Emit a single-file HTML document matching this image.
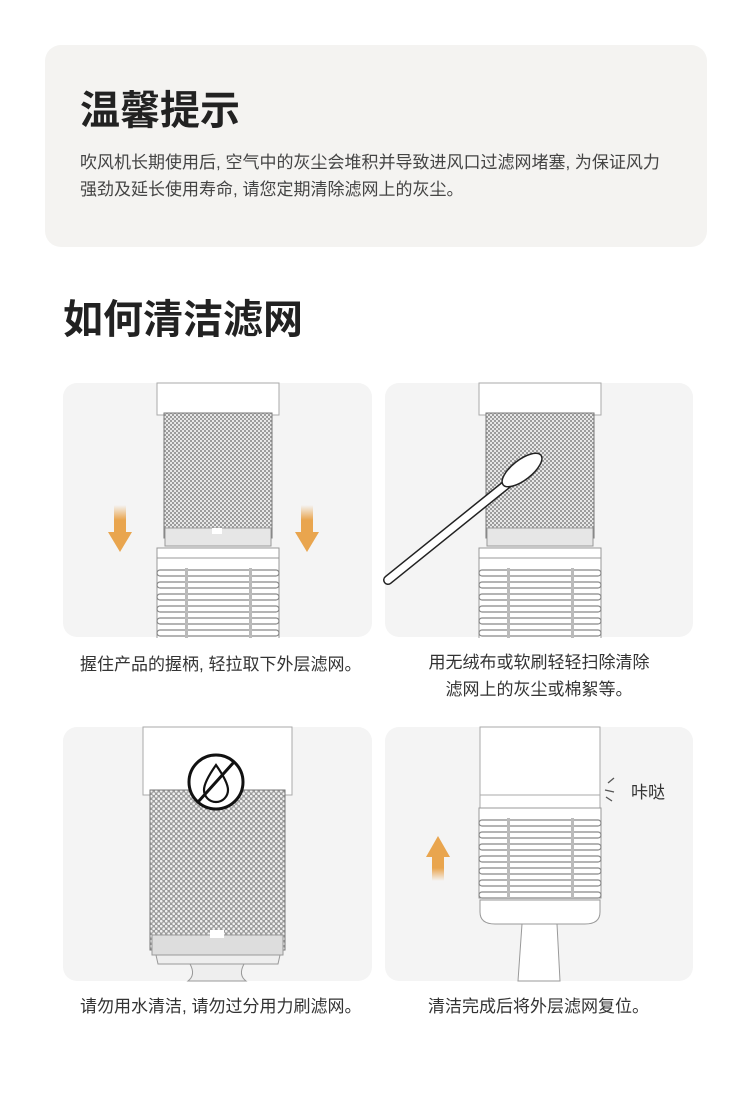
<!DOCTYPE html>
<html><head><meta charset="utf-8"><style>
html,body{margin:0;padding:0;background:#fff;}
svg text{font-family:"Liberation Sans","Noto Sans CJK SC",sans-serif;}
</style></head><body>
<svg width="750" height="1093" viewBox="0 0 750 1093" xmlns="http://www.w3.org/2000/svg">
<defs>
<pattern id="mesh" width="4" height="4" patternUnits="userSpaceOnUse">
<rect width="4" height="4" fill="#9a9a9a"/>
<circle cx="1" cy="1" r="1.1" fill="#eeeeee"/>
<circle cx="3" cy="3" r="1.1" fill="#eeeeee"/>
</pattern>
<pattern id="mesh2" width="5" height="5" patternUnits="userSpaceOnUse">
<rect width="5" height="5" fill="#9a9a9a"/>
<circle cx="1.2" cy="1.2" r="1.3" fill="#f0f0f0"/>
<circle cx="3.7" cy="3.7" r="1.3" fill="#f0f0f0"/>
</pattern>
<linearGradient id="ad" x1="0" y1="0" x2="0" y2="1"><stop offset="0" stop-color="#e9a54e" stop-opacity="0"/><stop offset="0.5" stop-color="#e9a54e"/></linearGradient>
<linearGradient id="au" x1="0" y1="1" x2="0" y2="0"><stop offset="0" stop-color="#e9a54e" stop-opacity="0"/><stop offset="0.5" stop-color="#e9a54e"/></linearGradient>
<g id="grille">
<rect x="0" y="0" width="122" height="90" fill="#fff" stroke="#999" stroke-width="1"/>
<g stroke="#888" fill="#fff" stroke-width="1.2">
<rect x="0" y="12" width="122" height="6" rx="3"/><rect x="0" y="24" width="122" height="6" rx="3"/>
<rect x="0" y="36" width="122" height="6" rx="3"/><rect x="0" y="48" width="122" height="6" rx="3"/>
<rect x="0" y="60" width="122" height="6" rx="3"/><rect x="0" y="72" width="122" height="6" rx="3"/>
<rect x="0" y="84" width="122" height="6" rx="3"/>
</g>
<g fill="#bbb"><rect x="28" y="10" width="3" height="80"/><rect x="92" y="10" width="3" height="80"/></g>
</g>
</defs>
<rect x="45" y="45" width="662" height="202" rx="16" fill="#f4f3f1"/>
<text x="80" y="124" font-size="40" font-weight="bold" fill="#222">温馨提示</text>
<text x="80" y="168" font-size="17" fill="#444">吹风机长期使用后, 空气中的灰尘会堆积并导致进风口过滤网堵塞, 为保证风力</text>
<text x="80" y="195" font-size="17" fill="#444">强劲及延长使用寿命, 请您定期清除滤网上的灰尘。</text>
<text x="63" y="333" font-size="40" font-weight="bold" fill="#222">如何清洁滤网</text>

<rect x="63" y="383" width="309" height="254" rx="14" fill="#f4f4f4"/>
<rect x="385" y="383" width="308" height="254" rx="14" fill="#f4f4f4"/>
<rect x="63" y="727" width="309" height="254" rx="14" fill="#f4f4f4"/>
<rect x="385" y="727" width="308" height="254" rx="14" fill="#f4f4f4"/>

<!-- panel 1 -->
<rect x="157" y="383" width="122" height="32" fill="#fff" stroke="#aaa"/>
<rect x="164" y="413" width="108" height="125" fill="url(#mesh)" stroke="#777"/>
<rect x="165" y="528" width="106" height="18" fill="#e6e6e6" stroke="#999"/>
<rect x="212" y="528" width="10" height="6" fill="#fff"/>
<rect x="157" y="548" width="122" height="14" fill="#fff" stroke="#999"/>
<use href="#grille" x="157" y="558"/>
<rect x="60" y="638" width="320" height="12" fill="#fff"/>
<rect x="114" y="505" width="12" height="30" fill="url(#ad)"/><polygon points="108,532 132,532 120,552" fill="#e9a54e"/>
<rect x="301" y="505" width="12" height="30" fill="url(#ad)"/><polygon points="295,532 319,532 307,552" fill="#e9a54e"/>

<!-- panel 2 -->
<rect x="479" y="383" width="122" height="32" fill="#fff" stroke="#aaa"/>
<rect x="486" y="413" width="108" height="125" fill="url(#mesh)" stroke="#777"/>
<rect x="487" y="528" width="106" height="18" fill="#e6e6e6" stroke="#999"/>
<rect x="479" y="548" width="122" height="14" fill="#fff" stroke="#999"/>
<use href="#grille" x="479" y="558"/>
<rect x="380" y="638" width="320" height="12" fill="#fff"/>
<line x1="388" y1="580" x2="522" y2="472" stroke="#222" stroke-width="10" stroke-linecap="round"/>
<line x1="388" y1="580" x2="522" y2="472" stroke="#fff" stroke-width="7" stroke-linecap="round"/>
<ellipse cx="522" cy="470" rx="24" ry="10" transform="rotate(-38 522 470)" fill="#fff" stroke="#222" stroke-width="1.5"/>

<text x="80" y="670" font-size="17" fill="#333">握住产品的握柄, 轻拉取下外层滤网。</text>
<text x="539" y="668" font-size="17" fill="#333" text-anchor="middle">用无绒布或软刷轻轻扫除清除</text>
<text x="539" y="695" font-size="17" fill="#333" text-anchor="middle">滤网上的灰尘或棉絮等。</text>

<!-- panel 3 -->
<rect x="143" y="727" width="149" height="68" fill="#fff" stroke="#aaa"/>
<rect x="150" y="790" width="135" height="160" fill="url(#mesh2)" stroke="#777"/>
<rect x="152" y="935" width="131" height="20" fill="#ddd" stroke="#999"/>
<rect x="210" y="930" width="14" height="8" fill="#fff"/>
<path d="M156 955 L280 955 L278 964 L158 964 Z" fill="#eee" stroke="#999"/>
<path d="M190 964 Q196 975 188 981 L246 981 Q238 975 244 964 Z" fill="#eee" stroke="#999"/>
<circle cx="216" cy="782" r="27" fill="#fff" stroke="#111" stroke-width="3"/>
<path d="M216 765 Q204 782 204 790 A12 12 0 0 0 228 790 Q228 782 216 765 Z" fill="none" stroke="#111" stroke-width="2.2"/>
<line x1="198" y1="802" x2="234" y2="762" stroke="#111" stroke-width="3"/>

<!-- panel 4 -->
<rect x="480" y="727" width="120" height="68" fill="#fff" stroke="#aaa"/>
<rect x="480" y="795" width="120" height="14" fill="#fff" stroke="#aaa"/>
<use href="#grille" x="479" y="808"/>
<path d="M480 900 L600 900 L600 912 Q600 924 585 924 L495 924 Q480 924 480 912 Z" fill="#fff" stroke="#999"/>
<path d="M522 924 L518 981 L560 981 L557 924 Z" fill="#fff" stroke="#999"/>
<rect x="432" y="855" width="12" height="26" fill="url(#au)"/><polygon points="426,857 450,857 438,836" fill="#e9a54e"/>
<g stroke="#555" stroke-width="1.3"><line x1="608" y1="783" x2="614" y2="778"/><line x1="605" y1="790" x2="614" y2="792"/><line x1="606" y1="797" x2="612" y2="801"/></g>
<text x="631" y="798" font-size="17" fill="#333">咔哒</text>

<text x="80" y="1012" font-size="17" fill="#333">请勿用水清洁, 请勿过分用力刷滤网。</text>
<text x="428" y="1012" font-size="17" fill="#333">清洁完成后将外层滤网复位。</text>
</svg>
</body></html>
